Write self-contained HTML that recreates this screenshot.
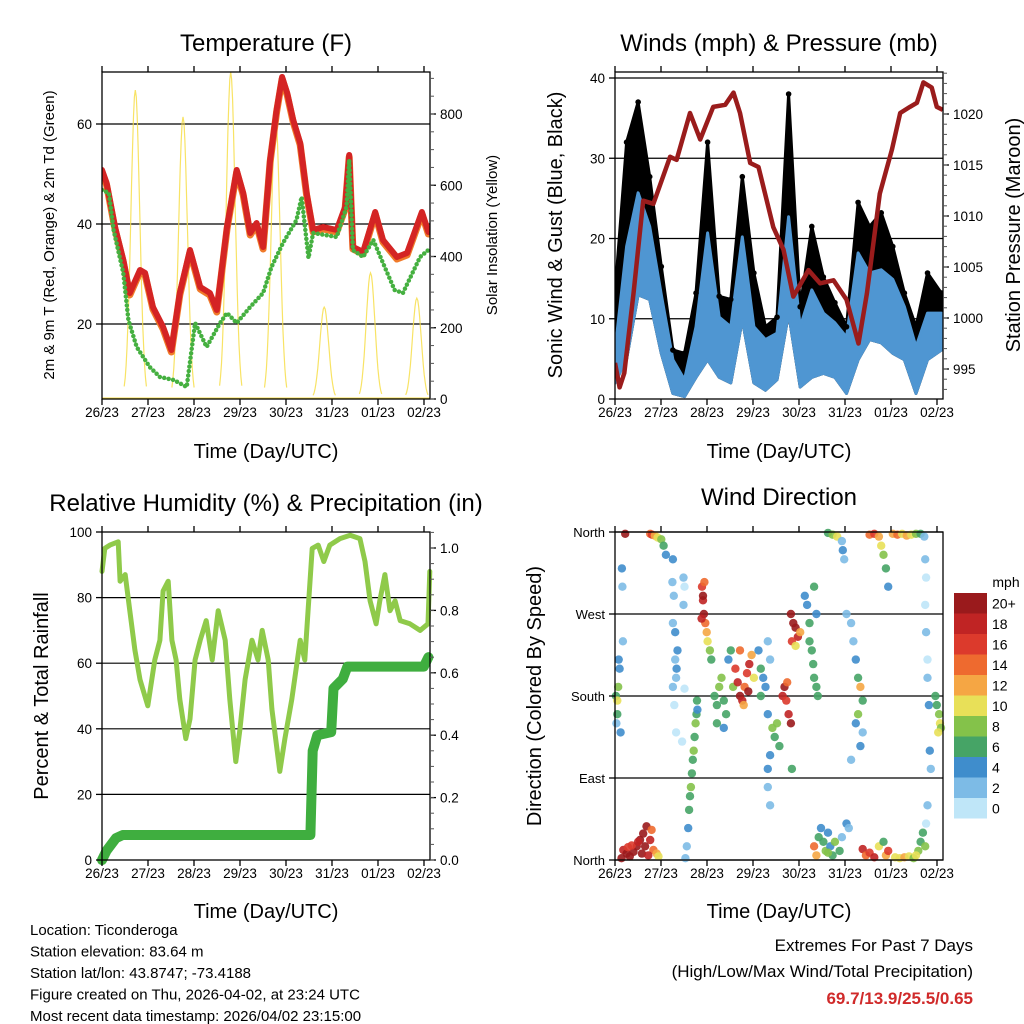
<!DOCTYPE html>
<html><head><meta charset="utf-8"><style>
html,body{margin:0;padding:0;background:#fff}
svg{display:block}
text{font-family:"Liberation Sans",Arial,sans-serif;fill:#000}
</style></head><body>
<svg id="s" width="1024" height="1024" viewBox="0 0 1024 1024" xmlns="http://www.w3.org/2000/svg"></svg>
<script>
// ---------- DATA ----------
const dayLabels = ["26/23","27/23","28/23","29/23","30/23","31/23","01/23","02/23"];
// Temperature (F)
const tempT = [0,0.10,0.28,0.46,0.6,0.82,0.93,1.1,1.32,1.5,1.68,1.9,2.12,2.33,2.48,2.7,2.91,3.05,3.2,3.34,3.48,3.63,3.77,3.89,4.0,4.13,4.28,4.42,4.56,4.78,5.07,5.25,5.34,5.42,5.64,5.9,6.07,6.37,6.59,6.91,7.05];
const tempV = [50.8,48.2,39.4,32.8,26.2,30.8,30.2,23.4,19.4,14.8,26.2,34.8,27.4,26.2,22.8,39.4,50.8,46.2,38.2,40.2,35.4,52.8,62.8,69.4,66.2,60.8,56.2,46.2,38.8,39.4,38.8,43.4,53.8,35.4,34.4,42.4,36.8,33.4,34.2,42.4,38.4];
const dewT = [0,0.15,0.25,0.46,0.57,0.75,1.03,1.25,1.55,1.83,2.01,2.26,2.55,2.7,2.91,3.2,3.48,3.66,3.91,4.2,4.31,4.46,4.56,5.07,5.28,5.34,5.42,5.64,5.86,6.07,6.32,6.5,6.87,7.05];
const dewV = [46.8,46.2,38.8,30.2,20.8,15.4,11.4,9.4,8.8,7.4,20.2,15.4,20.2,22.2,20.2,23.4,26.2,31.4,36.2,40.8,45.4,33.2,38.2,37.4,43.4,52.8,34.8,33.4,36.8,32.2,26.8,26.2,33.4,34.8];
const solarPeakT = [0.72,1.75,2.78,3.75,4.8,5.8,6.8];
const solarPeakV = [867,792,918,786,258,354,283];
// Winds (mph) per 6-hour bin
const windBinT = [0,0.25,0.5,0.75,1,1.25,1.5,1.75,2,2.25,2.5,2.75,3,3.25,3.5,3.75,4,4.25,4.5,4.75,5,5.25,5.5,5.75,6,6.25,6.5,6.75,7.05];
const gustHi = [13.2,32,37,27.7,16.5,6.1,5.7,13.2,32,12.8,12.4,27.7,15.7,9,10.2,38,11.5,21.5,15.2,12,9,24.5,21.5,23.2,19,13.2,9,15.7,13.2];
const windHi = [6,19,25.7,21.5,13,4.9,2.4,9,20.7,10.2,9,20.2,9,7.4,8.2,22.7,9,13.6,10.7,9.5,7.7,18.2,15.7,16.1,14.9,11.5,6.5,10.7,10.7];
const windLo = [2,5,13,12.4,5.7,0.7,0.3,2.7,4.9,2.7,2,9.9,2,1.1,2.4,10.7,1.5,2.7,3.2,2.7,0.7,4.9,7.4,7,5.7,4.9,0.7,4.9,6.1];
const presT = [0,0.1,0.2,0.4,0.61,0.83,1.19,1.33,1.62,1.84,2.12,2.38,2.56,2.7,2.92,3.1,3.42,3.64,3.85,4.18,4.43,4.72,5.0,5.26,5.44,5.72,5.98,6.16,6.37,6.52,6.66,6.84,6.95,7.08];
const presV = [995.6,993.2,994.6,1002.4,1011.5,1011.2,1015.8,1015.5,1020.1,1017.5,1020.7,1020.9,1022.1,1020.1,1015.2,1014.8,1008.9,1006.7,1002.1,1004.7,1003.4,1003.7,1001.8,997.5,1002.4,1012.2,1016.5,1020.1,1020.7,1021.1,1023.1,1022.6,1020.7,1020.4];
// RH & precip
const rhT = [0,.06,.17,.35,.39,.50,.60,.71,.82,.99,1.14,1.25,1.32,1.43,1.51,1.60,1.68,1.81,1.90,2.01,2.12,2.25,2.38,2.51,2.66,2.76,2.89,2.98,3.09,3.24,3.37,3.46,3.59,3.67,3.84,3.95,4.10,4.28,4.38,4.54,4.67,4.79,4.92,5.14,5.36,5.57,5.68,5.79,5.92,6.00,6.11,6.22,6.33,6.44,6.65,6.87,7.04,7.08];
const rhV = [88,95,96,97,85,87,76,64,55,47,61,67,82,85,67,61,49,37,43,61,67,73,61,76,67,49,30,40,55,67,61,70,61,46,27,37,49,67,61,95,96,91,96,98,99,98,91,79,72,79,87,76,79,73,72,70,72,88];
const prT = [0,0.1,0.3,0.45,4.5,4.55,4.65,4.95,5.0,5.2,5.3,6.95,7.05];
const prV = [0,0.03,0.07,0.08,0.08,0.35,0.40,0.41,0.55,0.58,0.62,0.62,0.65];
// Wind direction scatter
const wdT = [.18,.25,.32,.40,.47,.54,.61,.68,.76,.83,.90,.94,.36,.58,.72,.14,.79,.50,.65,.28,
.22,.76,.8,.86,.92,1.0,1.05,1.1,
1.25,1.24,1.27,1.25,1.3,1.35,1.3,1.33,1.32,1.25,1.28,1.32,
1.48,1.5,1.48,1.5,1.45,
1.52,1.55,1.58,1.6,1.62,1.64,1.66,1.68,1.7,1.72,1.74,1.76,1.77,1.78,
1.88,1.9,1.92,1.95,1.98,2.0,2.05,2.08,1.93,1.9,1.87,
2.15,2.2,2.25,2.3,2.35,2.4,2.45,2.5,2.2,2.35,2.55,
2.6,2.65,2.7,2.75,2.8,2.85,2.9,2.95,3.0,2.7,2.78,2.88,
3.1,3.15,3.2,3.25,3.3,3.15,3.35,
3.3,3.4,3.45,3.5,3.55,3.35,3.3,3.3,3.35,
3.62,3.66,3.7,3.75,3.8,3.72,3.82,
3.8,3.85,3.9,3.95,3.82,4.0,3.9,
4.1,4.15,4.2,4.2,4.25,4.28,4.3,4.35,4.38,4.3,4.35,
4.6,4.7,4.8,4.9,4.92,4.95,
4.3,4.35,4.4,4.5,4.55,4.6,4.65,4.7,4.75,4.85,4.9,5.0,5.05,4.45,4.6,
5.0,5.1,5.15,5.2,5.25,5.3,5.35,5.25,5.2,5.35,5.3,5.1,
5.35,5.42,5.5,5.6,5.7,5.8,5.85,5.9,
5.5,5.6,5.7,5.75,5.8,5.85,5.9,6.0,6.1,6.2,6.3,6.4,6.5,6.6,
6.05,6.15,6.25,6.35,6.45,6.55,6.6,6.65,6.7,6.5,
6.68,6.7,6.72,6.7,6.72,6.75,6.75,6.78,6.8,6.82,6.75,6.72,
6.92,6.95,7.0,7.02,7.04,6.98,
0.02,0.05,0.07,0.05,0.08,0.1,0.12,0.03,0.15,0.16,0.17];
const wdDir = [11,7,4,9,15,22,29,37,22,11,7,4,16,7,5,2,33,20,15,14,
358,358,357,356,354,352,345,335,
330,305,290,260,250,230,220,210,200,190,170,140,
310,300,280,188,130,
2,15,35,55,70,80,95,110,120,135,150,160,175,165,
300,285,270,260,250,240,230,220,305,290,265,
180,170,190,200,175,160,220,230,150,145,190,
210,195,180,175,190,205,215,225,200,230,170,185,
230,210,200,190,240,180,220,
160,145,135,150,125,115,100,80,60,
180,190,175,160,150,195,100,
270,260,255,245,240,250,235,
290,280,260,240,230,215,200,190,180,300,270,
359,357,355,350,340,330,
15,5,25,20,10,30,15,5,20,10,25,40,35,35,8,
270,260,240,220,200,190,175,160,150,140,125,110,
12,5,8,3,15,20,5,10,
357,358,355,345,335,320,300,358,357,358,356,357,358,358,
3,2,3,4,2,10,20,30,15,5,
355,330,310,280,250,220,200,170,120,100,60,40,
180,170,160,150,145,140,
180,175,190,160,220,210,140,150,320,300,240];
const wdSpd = [18,20,22,20,20,22,22,20,18,14,12,10,16,22,18,22,14,18,20,16,
22,14,16,12,10,8,6,4,
4,2,2,3,4,4,3,4,3,2,1,1,
2,1,2,1,1,
2,3,5,6,7,8,6,7,8,6,9,6,7,4,
16,18,20,14,12,10,8,7,14,20,18,
7,6,8,9,7,6,5,7,6,4,8,
16,18,20,18,14,16,18,12,10,14,12,20,
4,6,5,4,3,6,2,
5,8,7,8,6,4,4,3,2,
18,20,16,18,20,14,6,
20,22,20,18,16,12,10,
4,4,6,6,7,6,6,7,6,6,5,
7,9,10,3,4,3,
14,12,6,7,8,5,4,6,8,7,3,4,3,4,8,
2,2,3,4,6,12,6,8,4,3,4,2,
18,14,16,18,10,7,12,16,
14,16,12,10,8,6,4,12,14,10,12,10,8,6,
10,10,12,10,8,8,7,6,8,10,
3,2,1,1,2,1,3,4,4,3,2,1,
7,7,8,10,8,10,
6,10,8,7,4,4,4,3,4,2,2];
const cbLabels = ["0","2","4","6","8","10","12","14","16","18","20+"];
const cbColors = ["#bfe6f8","#7dbbe6","#3f8dcc","#46a466","#84c24a","#e8e058","#f5a644","#ee6a2f","#dc3a2c","#c02424","#9a1a1c"];
const extremes = "69.7/13.9/25.5/0.65";

// ---------- HELPERS ----------
const NS="http://www.w3.org/2000/svg";
const svg=document.getElementById('s');
function mk(tag,attrs,parent){const e=document.createElementNS(NS,tag);for(const k in attrs)e.setAttribute(k,attrs[k]);(parent||svg).appendChild(e);return e;}
function txt(x,y,s,size,anchor,extra){const e=mk('text',Object.assign({x:x,y:y,'font-size':size,'text-anchor':anchor||'start'},extra||{}));e.textContent=s;return e;}
const DAY=46.3;
function panelX(x0){return t=>x0+t*DAY;}
function lin(v0,y0,v1,y1){return v=>y0+(v-v0)*(y1-y0)/(v1-v0);}
function frame(g,x0,x1,y0,y1){
  mk('rect',{x:x0,y:y0,width:x1-x0,height:y1-y0,fill:'none',stroke:'#000','stroke-width':1.3},g);
}
function xAxis(g,x0,yTop,yBot){
  const X=panelX(x0);
  dayLabels.forEach((d,i)=>{
    const x=X(i*0.9935+0.0);
    mk('line',{x1:x,y1:yBot,x2:x,y2:yBot+6,stroke:'#000','stroke-width':1.3},g);
    mk('line',{x1:x,y1:yTop,x2:x,y2:yTop-6,stroke:'#000','stroke-width':1.3},g);
    const l=txt(x,yBot+18,d,13.5,'middle');
    
    
  });
}
function grid(g,x0,x1,y,color){mk('line',{x1:x0,y1:y,x2:x1,y2:y,stroke:color||'#000','stroke-width':1.2},g);}
function yTicks(g,xAxisX,vals,Y,labels,side,fs){
  vals.forEach((v,i)=>{const y=Y(v);
    const dx=side==='left'?-6:6;
    mk('line',{x1:xAxisX,y1:y,x2:xAxisX+dx,y2:y,stroke:'#000','stroke-width':1.3},g);
    const l=txt(side==='left'?xAxisX-10:xAxisX+10,y+5,labels[i],fs||13.5,side==='left'?'end':'start');
    
    
  });
}
function minorTicks(g,xAxisX,from,to,step,Y){
  for(let v=from;v<=to+1e-9;v+=step){const y=Y(v);mk('line',{x1:xAxisX,y1:y,x2:xAxisX+4,y2:y,stroke:'#555','stroke-width':1},g);}
}
function path(ts,vs,X,Y){return ts.map((t,i)=>(i?'L':'M')+X(t).toFixed(1)+','+Y(vs[i]).toFixed(1)).join(' ');}
function rotText(x,y,s,size,name){const e=txt(x,y,s,size,'middle',{transform:`rotate(-90 ${x} ${y})`});return e;}

// ---------- PANEL 1: Temperature ----------
(function(){
  const g=mk('g',{});  
  const x0=102,x1=430,y0=72,y1=399;
  const X=panelX(x0), Y=lin(20,324,60,124), R=lin(0,399,800,114);
  const cp=mk('clipPath',{id:'c1'}); mk('rect',{x:x0,y:y0,width:x1-x0,height:y1-y0},cp);
  [20,40,60].forEach(v=>grid(g,x0,x1,Y(v)));
  const pg=mk('g',{'clip-path':'url(#c1)'},g);
  solarPeakT.forEach((pt,i)=>{
    let d='';const pk=solarPeakV[i];
    for(let k=-12;k<=12;k++){const t=pt+k*0.02;const f=Math.exp(-(k*k)/45);d+=(k>-12?'L':'M')+X(t).toFixed(1)+','+R(pk*f).toFixed(1);}
    const p=mk('path',{d:d,fill:'none',stroke:'#f7de4a','stroke-width':1.2,opacity:0.85},pg);
     
  });
  mk('line',{x1:x0,y1:y1-1,x2:x1,y2:y1-1,stroke:'#f7de4a','stroke-width':1},pg);
  const o=mk('path',{d:path(tempT,tempV.map(v=>v-0.4),X,Y),fill:'none',stroke:'#f07a2a','stroke-width':7,'stroke-linejoin':'round','stroke-linecap':'round'},pg);
   
  const r=mk('path',{d:path(tempT,tempV,X,Y),fill:'none',stroke:'#d42424','stroke-width':6,'stroke-linejoin':'round','stroke-linecap':'round'},pg);
   
  const gr=mk('path',{d:path(dewT,dewV,X,Y),fill:'none',stroke:'#45b040','stroke-width':4.5,'stroke-dasharray':'0 4.5','stroke-linecap':'round','stroke-linejoin':'round'},pg);
   
  frame(g,x0,x1,y0,y1);
  yTicks(g,x0,[20,40,60],Y,['20','40','60'],'left');
  yTicks(g,x1,[0,200,400,600,800],R,['0','200','400','600','800'],'right');
  minorTicks(g,x1,0,900,50,R);
  xAxis(g,x0,y0,y1);
  const t=txt(266,51,'Temperature (F)',24,'middle');  
  const xt=txt(266,458,'Time (Day/UTC)',20,'middle');  
  rotText(54,235,'2m & 9m T (Red, Orange) & 2m Td (Green)',15,'y-axis-title-left');
  rotText(497,235,'Solar Insolation (Yellow)',15,'y-axis-title-right');
})();

// ---------- PANEL 2: Winds & Pressure ----------
(function(){
  const g=mk('g',{});  
  const x0=615,x1=943,y0=72,y1=399;
  const X=panelX(x0), Y=lin(0,399,40,78), P=lin(1000,318,1020,114);
  const cp=mk('clipPath',{id:'c2'}); mk('rect',{x:x0,y:y0,width:x1-x0,height:y1-y0},cp);
  [10,20,30,40].forEach(v=>grid(g,x0,x1,Y(v)));
  const pg=mk('g',{'clip-path':'url(#c2)'},g);
  function band(hi,lo,color,name){
    let d='';windBinT.forEach((t,i)=>{d+=(i?'L':'M')+X(t).toFixed(1)+','+Y(hi[i]).toFixed(1);});
    for(let i=windBinT.length-1;i>=0;i--)d+='L'+X(windBinT[i]).toFixed(1)+','+Y(lo[i]).toFixed(1);
    const p=mk('path',{d:d+'Z',fill:color,stroke:color,'stroke-width':3,'stroke-linejoin':'round'},pg);
     
  }
  band(gustHi,windLo,'#000','gust-band');
  band(windHi,windLo,'#4f96d2','wind-band');
  windBinT.forEach((t,i)=>{const c=mk('circle',{cx:X(t),cy:Y(gustHi[i]),r:2.8,fill:'#000'},pg);
     });
  const pr=mk('path',{d:path(presT,presV,X,P),fill:'none',stroke:'#9a1c1c','stroke-width':4.5,'stroke-linejoin':'round'},pg);
   
  frame(g,x0,x1,y0,y1);
  yTicks(g,x0,[0,10,20,30,40],Y,['0','10','20','30','40'],'left');
  yTicks(g,x1,[995,1000,1005,1010,1015,1020],P,['995','1000','1005','1010','1015','1020'],'right');
  minorTicks(g,x1,993,1024,1,P);
  xAxis(g,x0,y0,y1);
  const t=txt(779,51,'Winds (mph) & Pressure (mb)',24,'middle');  
  const xt=txt(779,458,'Time (Day/UTC)',20,'middle');  
  rotText(562,235,'Sonic Wind & Gust (Blue, Black)',20,'y-axis-title-left');
  rotText(1020,235,'Station Pressure (Maroon)',20,'y-axis-title-right');
})();

// ---------- PANEL 3: RH & Precip ----------
(function(){
  const g=mk('g',{});  
  const x0=102,x1=430,y0=532,y1=860;
  const X=panelX(x0), Y=lin(0,860,100,532), R=lin(0,860,1,548);
  const cp=mk('clipPath',{id:'c3'}); mk('rect',{x:x0-6,y:y0,width:x1-x0+12,height:y1-y0+6},cp);
  [20,40,60,80].forEach(v=>grid(g,x0,x1,Y(v)));
  const pg=mk('g',{'clip-path':'url(#c3)'},g);
  const rh=mk('path',{d:path(rhT,rhV,X,Y),fill:'none',stroke:'#8fca4a','stroke-width':5,'stroke-linejoin':'round','stroke-linecap':'round'},pg);
   
  const pr=mk('path',{d:path(prT,prV,X,R),fill:'none',stroke:'#3fae3f','stroke-width':10,'stroke-linejoin':'round','stroke-linecap':'round'},pg);
   
  frame(g,x0,x1,y0,y1);
  yTicks(g,x0,[0,20,40,60,80,100],Y,['0','20','40','60','80','100'],'left');
  yTicks(g,x1,[0,0.2,0.4,0.6,0.8,1.0],R,['0.0','0.2','0.4','0.6','0.8','1.0'],'right');
  minorTicks(g,x1,0,1.05,0.05,R);
  xAxis(g,x0,y0,y1);
  const t=txt(266,511,'Relative Humidity (%) & Precipitation (in)',24,'middle');  
  const xt=txt(266,918,'Time (Day/UTC)',20,'middle');  
  rotText(48,696,'Percent & Total Rainfall',20,'y-axis-title-left');
})();

// ---------- PANEL 4: Wind Direction ----------
(function(){
  const g=mk('g',{});  
  const x0=615,x1=943,y0=532,y1=860;
  const X=panelX(x0), Y=lin(0,860,360,532);
  [0,90,180,270,360].forEach(v=>grid(g,x0,x1,Y(v)));
  wdT.forEach((t,i)=>{
    const idx=Math.min(10,Math.floor(wdSpd[i]/2));
    const c=mk('circle',{cx:X(t).toFixed(1),cy:Y(wdDir[i]).toFixed(1),r:4.2,fill:cbColors[idx],opacity:0.9},g);
     
  });
  frame(g,x0,x1,y0,y1);
  yTicks(g,x0,[0,90,180,270,360],Y,['North','East','South','West','North'],'left',13);
  xAxis(g,x0,y0,y1);
  const t=txt(779,505,'Wind Direction',24,'middle');  
  const xt=txt(779,918,'Time (Day/UTC)',20,'middle');  
  rotText(541,696,'Direction (Colored By Speed)',20,'y-axis-title-left');
  const cb=mk('g',{},svg);  
  const u=txt(1006,587,'mph',14,'middle',{});  
  const h=20.5, top=593;
  for(let k=10;k>=0;k--){
    const yy=top+(10-k)*h;
    const r=mk('rect',{x:954,y:yy,width:33,height:h,fill:cbColors[k]},cb);
     
    const l=txt(992,yy+h/2+5,cbLabels[k],14,'start');
     
  }
})();

// ---------- FOOTER ----------
const info=["Location: Ticonderoga","Station elevation: 83.64 m","Station lat/lon: 43.8747; -73.4188","Figure created on Thu, 2026-04-02, at 23:24 UTC","Most recent data timestamp: 2026/04/02 23:15:00"];
info.forEach((s,i)=>{const e=txt(30,935+i*21.5,s,15,'start');});
let e=txt(973,951,'Extremes For Past 7 Days',17,'end');
e=txt(973,977,'(High/Low/Max Wind/Total Precipitation)',17,'end');
e=txt(973,1004,extremes,17,'end',{'font-weight':'bold',style:'fill:#d02a2a'});
</script>
</body></html>
